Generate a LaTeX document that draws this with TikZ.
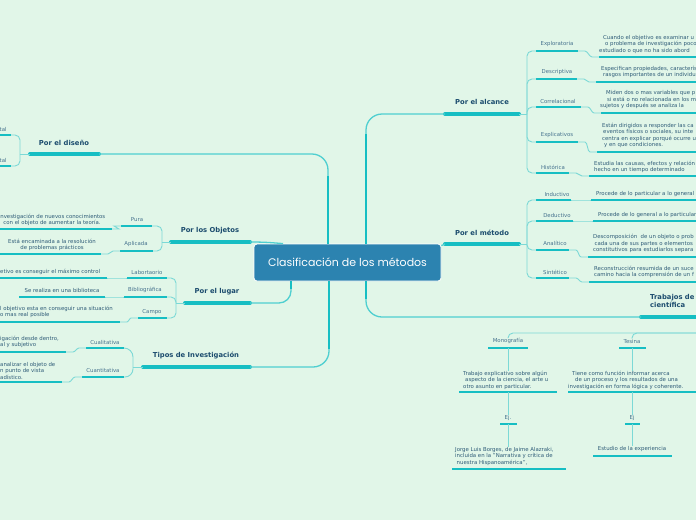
\documentclass[tikz,border=0pt]{standalone}
\usepackage{fontspec}
\setmainfont{DejaVu Sans}
\newfontfamily\titlefont{Poppins}
\definecolor{bgc}{HTML}{E1F6E8}
\definecolor{tealc}{HTML}{16BEC3}
\definecolor{connc}{HTML}{7CD9D6}
\definecolor{trunkc}{HTML}{4FCFD0}
\definecolor{topicc}{HTML}{1C4C6E}
\definecolor{subc}{HTML}{46728E}
\definecolor{descc}{HTML}{2F5C78}
\definecolor{boxc}{HTML}{2C83B0}
\newcommand{\topicfont}{\fontsize{6.8}{8}\selectfont\bfseries}
\newcommand{\labfont}{\fontsize{5.4}{6.5}\selectfont}
\newcommand{\descfont}{\fontsize{5.4}{6.5}\selectfont}
\newcommand{\ulin}[5]{\coordinate (#1l) at (#2,#4); \coordinate (#1r) at (#3,#4); \draw[#5] (#1l) -- (#1r);}
\newcommand{\sconn}[2]{\draw[conn] (#1) -- ([xshift=4pt]#1) to[out=0,in=180] ([xshift=-4pt]#2) -- (#2);}
\tikzset{
 topic/.style={font=\topicfont, text=topicc, inner sep=0pt},
 lab/.style={font=\labfont, text=subc, inner sep=0pt},
 desc/.style={font=\descfont, text=descc, inner sep=0pt, align=left},
 bigul/.style={draw=tealc, line width=4pt, line cap=round},
 smul/.style={draw=tealc, line width=1.8pt},
 conn/.style={draw=connc, line width=0.9pt, rounded corners=3pt},
 trunk/.style={draw=trunkc, line width=1.3pt, rounded corners=16pt},
 trunkthick/.style={draw=tealc, line width=2.4pt},
 central/.style={fill=boxc, draw=white, line width=0.8pt, rounded corners=3pt,
   minimum width=187pt, minimum height=37pt, text=white, inner sep=0pt,
   font=\titlefont\fontsize{11}{13}\selectfont}
}
\begin{document}
\begin{tikzpicture}[x=1pt,y=-1pt]
\fill[bgc] (0,0) rectangle (696,520);
\useasboundingbox (0,0) rectangle (696,520);

% ---------- central
\node[central] (C) at (347.5,262.5) {Clasificación de los métodos};

% ---------- Por el diseño
\node[topic] (dis) at (64,143) {Por el diseño};
\ulin{dis}{30}{99}{154}{bigul}
\node[lab, anchor=west] (dis1) at (-0.5,129) {tal};
\ulin{dis1}{-5}{11}{135}{smul}
\node[lab, anchor=west] (dis2) at (-0.5,160) {tal};
\ulin{dis2}{-5}{11}{166}{smul}
\coordinate (disb) at (20,154);
\draw[conn] (disl) -- (disb);
\draw[conn, rounded corners=5pt] (disb) |- (dis1r);
\draw[conn, rounded corners=5pt] (disb) |- (dis2r);

% ---------- Por los Objetos
\node[topic] (obj) at (210,231) {Por los Objetos};
\ulin{obj}{171}{250}{242}{bigul}
\node[lab] (pura) at (137,220) {Pura};
\ulin{pura}{121}{152}{226}{smul}
\node[lab] (apl) at (136,244) {Aplicada};
\ulin{apl}{120}{153}{251}{smul}
\coordinate (objb) at (162,242);
\draw[conn] (objl) -- (objb);
\draw[conn, rounded corners=5pt] (objb) |- (purar);
\draw[conn, rounded corners=5pt] (objb) |- (aplr);
\node[desc, align=center] (purad) at (52,220) {Investigación de nuevos conocimientos\\con el objeto de aumentar la teoría.};
\ulin{purad}{-5}{112}{229}{smul}
\sconn{puradr}{pural}
\node[desc, align=center] (apld) at (52,245) {Está encaminada a la resolución\\de problemas prácticos};
\ulin{apld}{-5}{101}{254}{smul}
\sconn{apldr}{apll}

% ---------- Por el lugar
\node[topic] (lug) at (217,292) {Por el lugar};
\ulin{lug}{185}{250}{303}{bigul}
\node[lab] (labo) at (147,272) {Labortaorio};
\ulin{labo}{127}{167}{278}{smul}
\node[lab] (bib) at (145,290) {Bibliográfica};
\ulin{bib}{124}{167}{297}{smul}
\node[lab] (cam) at (152,312) {Campo};
\ulin{cam}{138}{167}{318}{smul}
\coordinate (lugb) at (176,303);
\draw[conn] (lugl) -- (lugb);
\draw[conn, rounded corners=5pt] (lugb) |- (labor);
\draw[conn, rounded corners=5pt] (lugb) |- (bibr);
\draw[conn, rounded corners=5pt] (lugb) |- (camr);
\node[desc, anchor=west] (labd) at (0,272) {etivo es conseguir el máximo control};
\ulin{labd}{-5}{107}{278}{smul}
\sconn{labdr}{labol}
\node[desc] (bibd) at (62,290) {Se realiza en una biblioteca};
\ulin{bibd}{19}{105}{297}{smul}
\sconn{bibdr}{bibl}
\node[desc, anchor=west] (camd) at (0,312) {l objetivo esta en conseguir una situación\\o mas real posible};
\ulin{camd}{-5}{120}{322}{smul}
\sconn{camdr}{caml}

% ---------- Tipos de Investigación
\node[topic] (tip) at (196,356) {Tipos de Investigación};
\ulin{tip}{143}{250}{367}{bigul}
\node[lab] (cua) at (105,342) {Cualitativa};
\ulin{cua}{86}{124}{348}{smul}
\node[lab] (cun) at (103,370) {Cuantitativa};
\ulin{cun}{82}{124}{377}{smul}
\coordinate (tipb) at (133,367);
\draw[conn] (tipl) -- (tipb);
\draw[conn, rounded corners=9pt] (tipb) |- (cuar);
\draw[conn, rounded corners=8pt] (tipb) |- (cunr);
\node[desc, anchor=west] (cuad) at (0,342) {igación desde dentro,\\al y subjetivo};
\ulin{cuad}{-5}{66}{352}{smul}
\sconn{cuadr}{cual}
\node[desc, anchor=west] (cund) at (0,370.5) {analizar el objeto de\\n punto de vista\\adístico.};
\ulin{cund}{-5}{62}{382}{smul}
\sconn{cundr}{cunl}

% ---------- Por el alcance
\node[topic] (alc) at (482,102) {Por el alcance};
\ulin{alc}{445}{519}{114}{bigul}
\coordinate (alcb) at (527,114);
\draw[conn] (alcr) -- (alcb);
\node[lab] (exp) at (557,44) {Exploratoria};
\ulin{exp}{536}{578}{51}{smul}
\node[lab] (des) at (557,72) {Descriptiva};
\ulin{des}{536}{577}{79}{smul}
\node[lab] (cor) at (558,101) {Correlacional};
\ulin{cor}{536}{581}{107}{smul}
\node[lab] (exc) at (557,135) {Explicativos};
\ulin{exc}{536}{578}{142}{smul}
\node[lab] (his) at (553,167) {Histórica};
\ulin{his}{536}{569}{173}{smul}
\foreach \n in {expl,desl,corl,excl,hisl} \draw[conn, rounded corners=5pt] (alcb) |- (\n);
\node[desc, anchor=west] (expd) at (599,44.5) {\hspace*{4pt}Cuando el objetivo es examinar u\\\hspace*{6pt}o problema de investigación poco\\estudiado o que no ha sido abord};
\ulin{expd}{599}{700}{57}{smul}
\sconn{expr}{expdl}
\node[desc, anchor=west] (desd) at (601,72) {Especifican propiedades, caracterís\\\hspace*{2pt}rasgos importantes de un individu};
\ulin{desd}{596}{700}{82}{smul}
\sconn{desr}{desdl}
\node[desc, anchor=west] (cord) at (600,100) {\hspace*{6pt}Miden dos o mas variables que p\\\hspace*{7pt}si está o no relacionada en los m\\sujetos y después se analiza la};
\ulin{cord}{601}{700}{113}{smul}
\sconn{corr}{cordl}
\node[desc, anchor=west] (excd) at (602,135.5) {Están dirigidos a responder las ca\\\hspace*{1pt}eventos físicos o sociales, su inte\\centra en explicar porqué ocurre u\\\hspace*{2pt}y en que condiciones.};
\ulin{excd}{597}{700}{152}{smul}
\sconn{excr}{excdl}
\node[desc, anchor=west] (hisd) at (594,167) {Estudia las causas, efectos y relación\\hecho en un tiempo determinado};
\ulin{hisd}{589}{700}{176}{smul}
\sconn{hisr}{hisdl}

% ---------- Por el método
\node[topic] (met) at (482,233) {Por el método};
\ulin{met}{445}{519}{244}{bigul}
\coordinate (metb) at (527,244);
\draw[conn] (metr) -- (metb);
\node[lab] (ind) at (557,194) {Inductivo};
\ulin{ind}{536}{571}{200}{smul}
\node[lab] (ded) at (557,215) {Deductivo};
\ulin{ded}{536}{573}{221}{smul}
\node[lab] (ana) at (555,243) {Analítico};
\ulin{ana}{536}{569}{250}{smul}
\node[lab] (sin) at (555,272) {Sintético};
\ulin{sin}{536}{569}{278}{smul}
\foreach \n in {indl,dedl,anal,sinl} \draw[conn, rounded corners=5pt] (metb) |- (\n);
\node[desc, anchor=west] (indd) at (596,194) {Procede de lo particular a lo general};
\ulin{indd}{591}{700}{200}{smul}
\sconn{indr}{inddl}
\node[desc, anchor=west] (dedd) at (598,215) {Procede de lo general a lo particular};
\ulin{dedd}{593}{700}{221}{smul}
\sconn{dedr}{deddl}
\node[desc, anchor=west] (anad) at (593,243.5) {Descomposición\ \ de un objeto o prob\\\hspace*{1.5pt}cada una de sus partes o elementos\\constitutivos para estudiarlos separa};
\ulin{anad}{588}{700}{257}{smul}
\sconn{anar}{anadl}
\node[desc, anchor=west] (sind) at (594,272) {Reconstrucción resumida de un suce\\camino hacia la comprensión de un f};
\ulin{sind}{589}{700}{282}{smul}
\sconn{sinr}{sindl}

% ---------- Trabajos de investigación científica
\node[topic, anchor=west, align=left] (tra) at (650,301) {Trabajos de\\científica};
\ulin{tra}{641}{700}{317}{bigul}
\coordinate (trab) at (700,333);
\node[lab] (mon) at (508,341) {Monografía};
\ulin{mon}{488}{528}{348}{smul}
\node[lab] (tes) at (632,341) {Tesina};
\ulin{tes}{619}{646}{348}{smul}
\draw[conn, rounded corners=5pt] (trab) -| (mon.north);
\draw[conn, rounded corners=5pt] (trab) -| (tes.north);

\coordinate (monc) at (508,348);
\node[desc, anchor=west] (mond) at (463,380) {Trabajo explicativo sobre algún\\\hspace*{2pt}aspecto de la ciencia, el arte u\\otro asunto en particular.};
\ulin{mond}{459}{557}{392}{smul}
\coordinate (mondc) at (508,392);
\draw[conn] (monc) -- (monc |- mond.north);
\node[lab] (ej1) at (508,418) {Ej.};
\ulin{ej1}{500}{517}{424}{smul}
\coordinate (ej1c) at (508,424);
\draw[conn] (mondc) -- (ej1.north);
\node[desc, anchor=west] (jor) at (455,456.5) {Jorge Luis Borges, de Jaime Alazraki,\\incluida en la "Narrativa y crítica de\\\hspace*{1.5pt}nuestra Hispanoamérica",};
\ulin{jor}{452}{566}{469}{smul}
\draw[conn] (ej1c) -- (ej1c |- jor.north);

\coordinate (tesc) at (632,348);
\node[desc, anchor=west] (tesd) at (568,380) {\hspace*{4pt}Tiene como función informar acerca\\\hspace*{7pt}de un proceso y los resultados de una\\investigación en forma lógica y coherente.};
\ulin{tesd}{568}{700}{392}{smul}
\coordinate (tesdc) at (632,392);
\draw[conn] (tesc) -- (tesc |- tesd.north);
\node[lab] (ej2) at (632,418) {Ej};
\ulin{ej2}{625}{640}{424}{smul}
\coordinate (ej2c) at (632,424);
\draw[conn] (tesdc) -- (ej2.north);
\node[desc] (est) at (632,449) {Estudio de la experiencia};
\ulin{est}{593}{672}{456}{smul}
\draw[conn] (ej2c) -- (est.north);

% ---------- trunks from the central node
\draw[trunk] ([xshift=-19.5pt]C.north) |- (disr);
\draw[trunkthick] ([xshift=-19.5pt]C.north) -- ++(0,-68);
\draw[trunk] ([xshift=18.5pt]C.north) |- (alcl);
\draw[trunkthick] ([xshift=18.5pt]C.north) -- ++(0,-110);
\draw[trunk] ([xshift=18.5pt]C.south) |- (tral);
\draw[trunkthick] ([xshift=18.5pt]C.south) -- ++(0,18);
\draw[trunk] ([xshift=-18.5pt]C.south) |- (tipr);
\draw[trunkthick] ([xshift=-18.5pt]C.south) -- ++(0,68);
\draw[trunk, rounded corners=12pt] ([xshift=-56.5pt]C.south) |- (lugr);
\draw[trunkthick] ([xshift=-56.5pt]C.south) -- ++(0,8);
\draw[trunk] (objr) to[out=0,in=175] ([xshift=-64.5pt]C.north);
\draw[trunk] ([yshift=-2pt]C.north east) -- (metl);
\end{tikzpicture}
\end{document}
